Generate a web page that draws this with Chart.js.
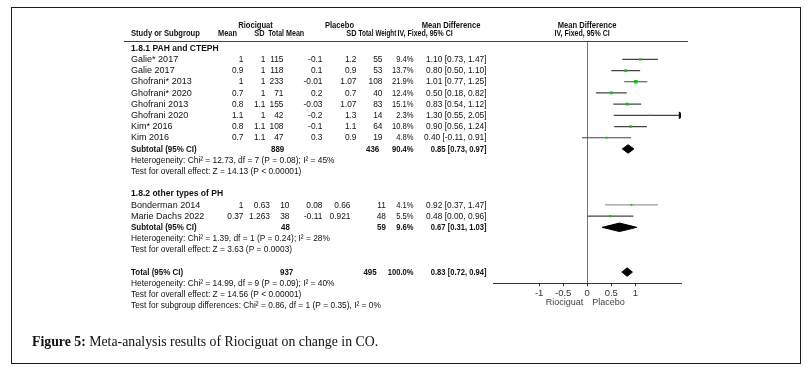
<!DOCTYPE html>
<html>
<head>
<meta charset="utf-8">
<script src="https://cdn.jsdelivr.net/npm/chart.js@4.4.0/dist/chart.umd.min.js"></script>
<style>
  html, body { margin: 0; padding: 0; background: #fff; }
  #wrap { position: relative; width: 811px; height: 371px; }
  #frame { position: absolute; left: 11px; top: 7px; width: 788px; height: 355px;
           border: 1.3px solid #1c1c1c; pointer-events: none; }
  #caption { position: absolute; left: 32px; top: 334px; font: 13.8px "Liberation Serif", "DejaVu Serif", serif;
             color: #111; white-space: nowrap; }
</style>
</head>
<body>
<div id="wrap">
  <canvas id="forest" width="811" height="371"></canvas>
  <div id="frame"></div>
  <div id="caption"><b>Figure 5:</b> Meta-analysis results of Riociguat on change in CO.</div>
</div>
<script>
// studies
const studies = ['Galie* 2017', 'Galie 2017', 'Ghofrani* 2013', 'Ghofrani* 2020', 'Ghofrani 2013',
                 'Ghofrani 2020', 'Kim* 2016', 'Kim 2016', 'Bonderman 2014', 'Marie Dachs 2022'];
const studyRows = [1, 2, 3, 4, 5, 6, 7, 8, 14, 15];
const rioMean = ['1', '0.9', '1', '0.7', '0.8', '1.1', '0.8', '0.7', '1', '0.37'];
const rioSD = ['1', '1', '1', '1', '1.1', '1', '1.1', '1.1', '0.63', '1.263'];
const rioN = [115, 118, 233, 71, 155, 42, 108, 47, 10, 38];
const plaMean = ['-0.1', '0.1', '-0.01', '0.2', '-0.03', '-0.2', '-0.1', '0.3', '0.08', '-0.11'];
const plaSD = ['1.2', '0.9', '1.07', '0.7', '1.07', '1.3', '1.1', '0.9', '0.66', '0.921'];
const plaN = [55, 53, 108, 40, 83, 14, 64, 19, 11, 48];
const weight = [9.4, 13.7, 21.9, 12.4, 15.1, 2.3, 10.8, 4.8, 4.1, 5.5];
const md = [1.10, 0.80, 1.01, 0.50, 0.83, 1.30, 0.90, 0.40, 0.92, 0.48];
const lo = [0.73, 0.50, 0.77, 0.18, 0.54, 0.55, 0.56, -0.11, 0.37, 0.00];
const hi = [1.47, 1.10, 1.25, 0.82, 1.12, 2.05, 1.24, 0.91, 1.47, 0.96];

// pooled estimates
const pooledNames = ['Subtotal (95% CI)', 'Subtotal (95% CI)', 'Total (95% CI)'];
const pooledRows = [9, 16, 20];
const pooledRioN = [889, 48, 937];
const pooledPlaN = [436, 59, 495];
const pooledWeight = [90.4, 9.6, 100.0];
const pooledMd = [0.85, 0.67, 0.83];
const pooledLo = [0.73, 0.31, 0.72];
const pooledHi = [0.97, 1.03, 0.94];

const groupTitles = ['1.8.1 PAH and CTEPH', '1.8.2 other types of PH'];
const groupRows = [0, 13];
const notes = [
  'Heterogeneity: Chi\u00b2 = 12.73, df = 7 (P = 0.08); I\u00b2 = 45%',
  'Test for overall effect: Z = 14.13 (P < 0.00001)',
  'Heterogeneity: Chi\u00b2 = 1.39, df = 1 (P = 0.24); I\u00b2 = 28%',
  'Test for overall effect: Z = 3.63 (P = 0.0003)',
  'Heterogeneity: Chi\u00b2 = 14.99, df = 9 (P = 0.09); I\u00b2 = 40%',
  'Test for overall effect: Z = 14.56 (P < 0.00001)',
  'Test for subgroup differences: Chi\u00b2 = 0.86, df = 1 (P = 0.35), I\u00b2 = 0%'
];
const noteRows = [10, 11, 17, 18, 21, 22, 23];

const xTicks = [-1, -0.5, 0, 0.5, 1];
const xMin = -1.95, xMax = 1.95;

const fmt2 = v => v.toFixed(2);
const ciText = (m, l, h) => fmt2(m) + ' [' + fmt2(l) + ', ' + fmt2(h) + ']';

const datasets = [];
// CI lines
studies.forEach((s, i) => {
  const clipped = hi[i] > xMax;
  datasets.push({
    data: [{x: Math.max(lo[i], xMin), y: studyRows[i]}, {x: Math.min(hi[i], xMax), y: studyRows[i]}],
    showLine: true,
    borderColor: i === 8 ? '#9a9a9a' : '#444',
    borderWidth: 1.2,
    pointRadius: [0, clipped ? 3.2 : 0],
    pointStyle: 'triangle',
    rotation: 90,
    pointBackgroundColor: '#111',
    pointBorderColor: '#111',
    order: 2
  });
});
// study markers
datasets.push({
  data: md.map((m, i) => ({x: m, y: studyRows[i]})),
  pointStyle: 'rect',
  pointRadius: weight.map(w => 0.5 + Math.sqrt(w) * 0.4),
  pointBackgroundColor: '#10c010',
  pointBorderColor: '#10c010',
  pointBorderWidth: 0,
  order: 0
});
// diamonds
pooledMd.forEach((m, i) => {
  const r = pooledRows[i], h = 0.38;
  datasets.push({
    data: [{x: pooledLo[i], y: r}, {x: m, y: r - h}, {x: pooledHi[i], y: r}, {x: m, y: r + h}, {x: pooledLo[i], y: r}],
    showLine: true,
    fill: 'shape',
    backgroundColor: '#000',
    borderColor: '#000',
    borderWidth: 1,
    pointRadius: 0,
    order: 1
  });
});

// column right edges for each block of rows
const colsG1 = { mean: 243.5, sd: 265.5, n: 283.5, pmean: 322.5, psd: 356.5, pn: 382.5 };
const colsG2 = { mean: 243.5, sd: 270, n: 289.5, pmean: 322.5, psd: 350.5, pn: 386 };
const pooledRioX = [284.3, 290, 293.3];
const pooledPlaX = [379.3, 386, 376.7];

const tablePlugin = {
  id: 'table',
  afterDraw(chart) {
    const c = chart.ctx, y = chart.scales.y, x = chart.scales.x;
    const FONT = '"Liberation Sans", Arial, sans-serif';
    const t = (s, px, py, align, bold, sx) => {
      const k = sx || (bold ? 0.84 : 0.88);
      c.save();
      c.font = (bold ? 'bold ' : '') + '9.5px ' + FONT;
      c.textAlign = align;
      c.textBaseline = 'middle';
      c.translate(px, py);
      c.scale(k, 1);
      c.fillText(s, 0, 0);
      c.restore();
    };
    c.save();
    c.fillStyle = '#111';
    // headers
    const h1 = y.getPixelForValue(-2.05), h2 = y.getPixelForValue(-1.3);
    t('Riociguat', 255.5, h1, 'center', true, 0.8);
    t('Placebo', 339.5, h1, 'center', true, 0.8);
    t('Mean Difference', 451, h1, 'center', true, 0.8);
    t('Mean Difference', 587, h1, 'center', true, 0.8);
    t('Study or Subgroup', 131, h2, 'left', true, 0.8);
    t('Mean', 218, h2, 'left', true, 0.78);
    t('SD', 264.5, h2, 'right', true, 0.78);
    t('Total', 284, h2, 'right', true, 0.72);
    t('Mean', 286, h2, 'left', true, 0.75);
    t('SD', 356.5, h2, 'right', true, 0.78);
    t('Total', 358.5, h2, 'left', true, 0.68);
    t('Weight', 375.5, h2, 'left', true, 0.66);
    t('IV, Fixed, 95% CI', 397.5, h2, 'left', true, 0.74);
    t('IV, Fixed, 95% CI', 554.5, h2, 'left', true, 0.74);
    c.strokeStyle = '#444';
    c.lineWidth = 1;
    c.beginPath();
    c.moveTo(124, 41.5);
    c.lineTo(688, 41.5);
    c.stroke();
    // group titles
    groupTitles.forEach((g, i) => t(g, 131, y.getPixelForValue(groupRows[i]), 'left', true, 0.9));
    // study rows
    studies.forEach((s, i) => {
      const py = y.getPixelForValue(studyRows[i]);
      const col = i < 8 ? colsG1 : colsG2;
      t(s, 131, py, 'left', false, 0.95);
      t(rioMean[i], col.mean, py, 'right', false);
      t(rioSD[i], col.sd, py, 'right', false);
      t(String(rioN[i]), col.n, py, 'right', false);
      t(plaMean[i], col.pmean, py, 'right', false);
      t(plaSD[i], col.psd, py, 'right', false);
      t(String(plaN[i]), col.pn, py, 'right', false);
      t(weight[i].toFixed(1) + '%', 413.5, py, 'right', false, 0.8);
      t(ciText(md[i], lo[i], hi[i]), 486.5, py, 'right', false);
    });
    // pooled rows
    pooledNames.forEach((s, i) => {
      const py = y.getPixelForValue(pooledRows[i]);
      t(s, 131, py, 'left', true);
      t(String(pooledRioN[i]), pooledRioX[i], py, 'right', true);
      t(String(pooledPlaN[i]), pooledPlaX[i], py, 'right', true);
      t(pooledWeight[i].toFixed(1) + '%', 413.5, py, 'right', true, 0.8);
      t(ciText(pooledMd[i], pooledLo[i], pooledHi[i]), 486.5, py, 'right', true, 0.8);
    });
    // notes
    notes.forEach((s, i) => t(s, 131, y.getPixelForValue(noteRows[i]), 'left', false));
    // favours labels
    const x0 = x.getPixelForValue(0);
    c.fillStyle = '#444';
    t('Riociguat', x0 - 4, chart.chartArea.bottom + 19, 'right', false, 0.95);
    t('Placebo', x0 + 5, chart.chartArea.bottom + 19, 'left', false, 0.95);
    c.restore();
  }
};

new Chart(document.getElementById('forest').getContext('2d'), {
  type: 'scatter',
  data: { datasets: datasets },
  options: {
    responsive: false,
    animation: false,
    layout: { padding: { left: 493.5, right: 130, top: 42, bottom: 0 } },
    plugins: { legend: { display: false }, tooltip: { enabled: false } },
    scales: {
      x: {
        type: 'linear', min: xMin, max: xMax,
        afterBuildTicks: s => { s.ticks = xTicks.map(v => ({ value: v })); },
        afterFit: s => { s.height = 371 - 283.3; },
        grid: {
          color: c => (c.tick && c.tick.value === 0 ? '#777' : 'rgba(0,0,0,0)'),
          tickColor: '#333', tickLength: 3, lineWidth: 1
        },
        border: { color: '#333', width: 1 },
        ticks: { color: '#333', padding: 1, font: { family: 'Liberation Sans', size: 9.5 },
                 autoSkip: false, maxRotation: 0, callback: v => String(v) }
      },
      y: { type: 'linear', reverse: true, min: -0.55, max: 21, display: false }
    }
  },
  plugins: [tablePlugin]
});
</script>
</body>
</html>
